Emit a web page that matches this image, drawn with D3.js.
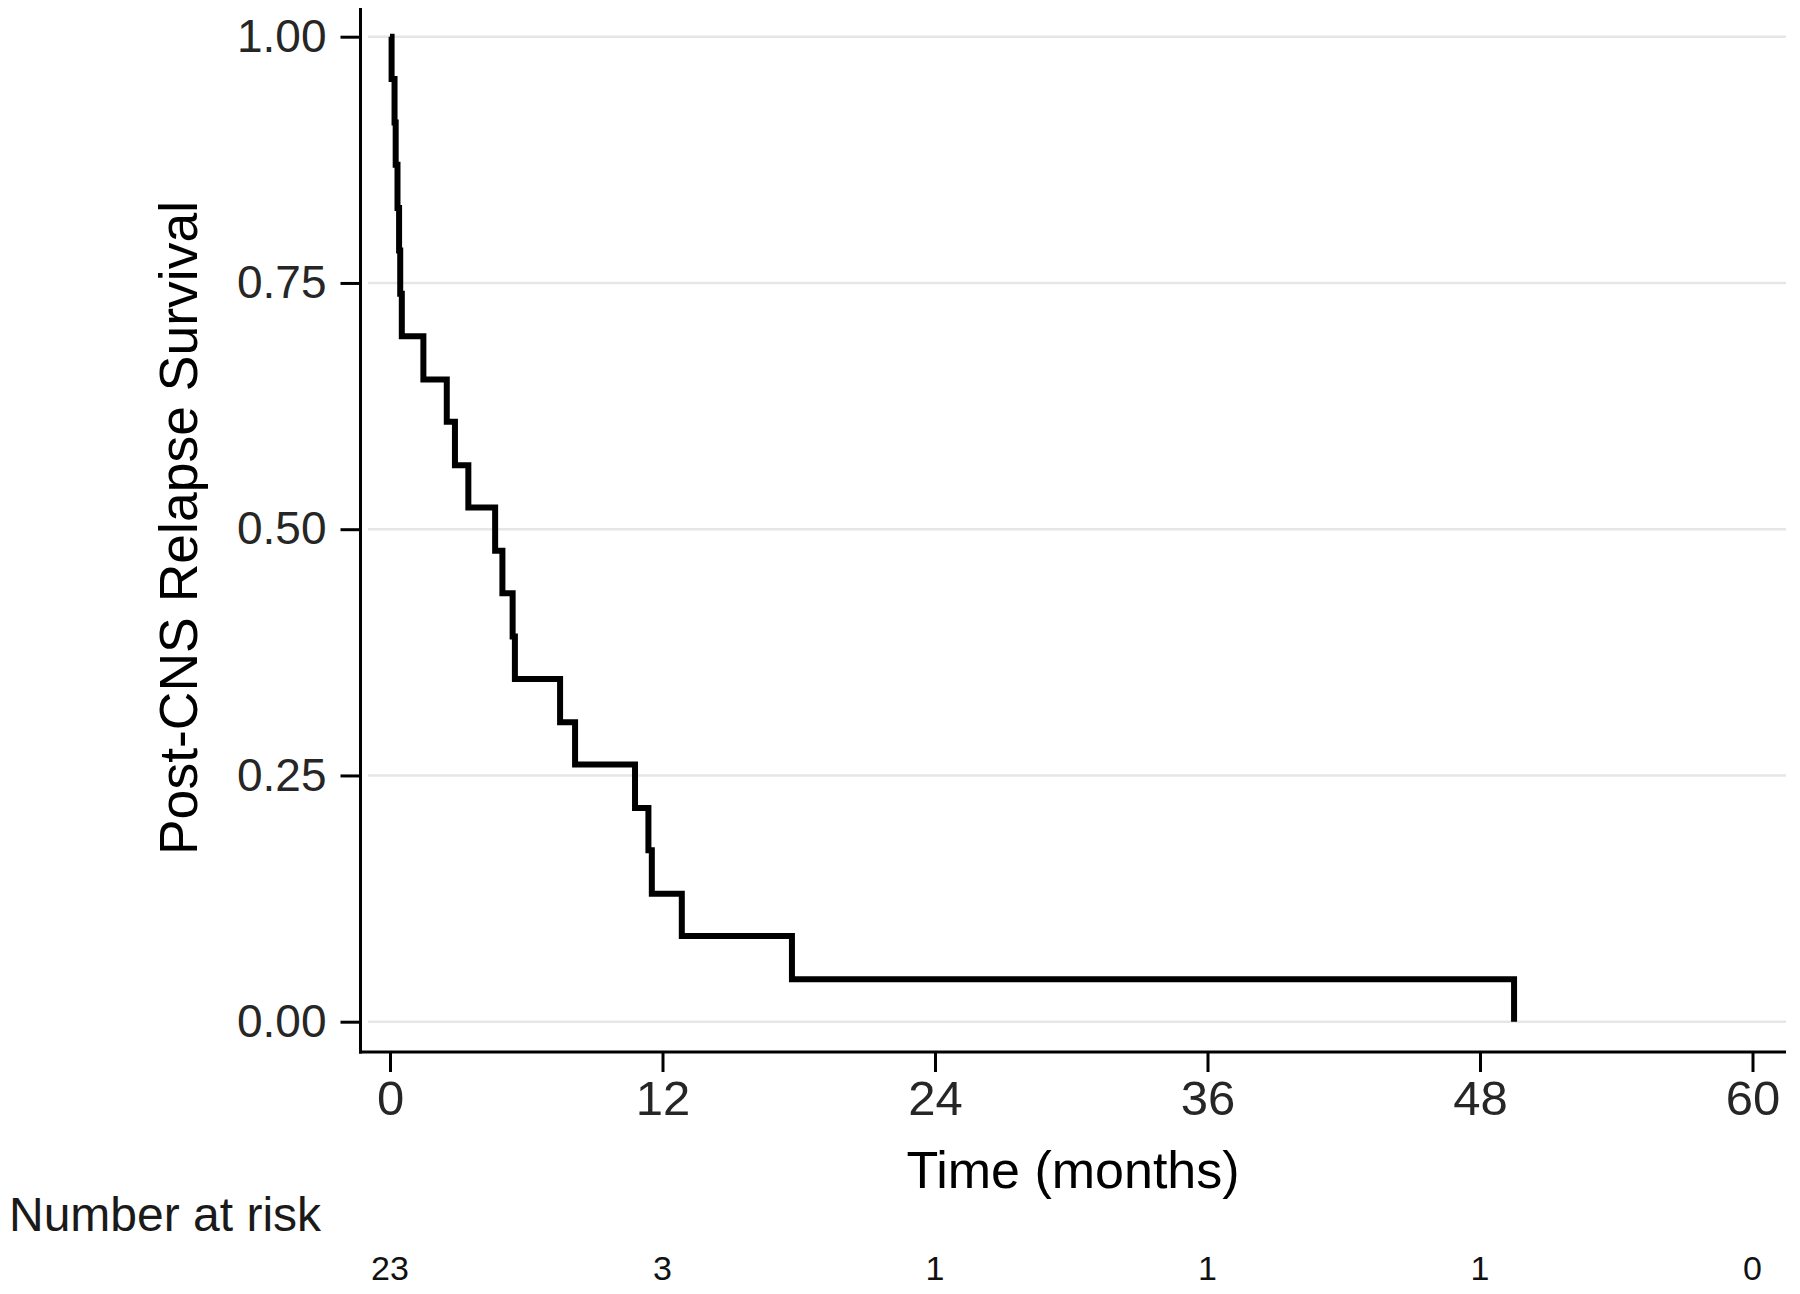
<!DOCTYPE html>
<html>
<head>
<meta charset="utf-8">
<script src="https://cdn.jsdelivr.net/npm/d3@7"></script>
<style>
  html, body { margin: 0; padding: 0; background: #fff; }
  svg { display: block; }
  text { font-family: "Liberation Sans", Arial, sans-serif; }
</style>
</head>
<body>
<svg id="chart" width="1800" height="1294"></svg>
<script>
// ---- data ----
const times    = [0, 0.07, 0.2, 0.25, 0.33, 0.4, 0.45, 0.52, 1.47, 2.5, 2.86, 3.45, 4.63, 4.95, 5.40, 5.50, 7.49, 8.15, 10.79, 11.38, 11.53, 12.85, 17.7, 49.5];
const survival = [1.0, 0.957, 0.913, 0.870, 0.826, 0.783, 0.739, 0.696, 0.652, 0.609, 0.565, 0.522, 0.478, 0.435, 0.391, 0.348, 0.304, 0.261, 0.217, 0.174, 0.130, 0.087, 0.043, 0.0];
const xTicks   = [0, 12, 24, 36, 48, 60];
const yTicks   = [0, 0.25, 0.5, 0.75, 1.0];
const riskTimes  = [0, 12, 24, 36, 48, 60];
const riskCounts = [23, 3, 1, 1, 1, 0];

// ---- layout ----
const svg = d3.select("#chart");
svg.append("rect").attr("width", 1800).attr("height", 1294).attr("fill", "#fff");

const x = d3.scaleLinear().domain([0, 60]).range([390, 1752.5]);
const y = d3.scaleLinear().domain([0, 1]).range([1021.7, 36.7]);

const axisX0 = 360.5, axisY0 = 1052, axisTop = 8, axisRight = 1786;

// gridlines
svg.append("g").selectAll("line").data(yTicks).join("line")
  .attr("x1", 368).attr("x2", axisRight)
  .attr("y1", d => y(d)).attr("y2", d => y(d))
  .attr("stroke", "#e6e6e6").attr("stroke-width", 2.5);

// y axis
const yAxis = d3.axisLeft(y).tickValues(yTicks).tickFormat(d3.format(".2f"))
  .tickSize(20).tickPadding(14);
const gy = svg.append("g").attr("transform", `translate(${axisX0},0)`).call(yAxis);
gy.select(".domain").remove();
gy.selectAll(".tick line").attr("stroke", "#000").attr("stroke-width", 3);
gy.selectAll(".tick text").attr("font-size", 46).attr("fill", "#262626")
  .attr("font-family", "'Liberation Sans', Arial, sans-serif");
svg.append("line").attr("x1", axisX0).attr("x2", axisX0)
  .attr("y1", axisTop).attr("y2", axisY0 + 1.5)
  .attr("stroke", "#000").attr("stroke-width", 3);

// x axis
const xAxis = d3.axisBottom(x).tickValues(xTicks).tickFormat(d3.format("d"))
  .tickSize(20).tickPadding(8);
const gx = svg.append("g").attr("transform", `translate(0,${axisY0})`).call(xAxis);
gx.select(".domain").remove();
gx.selectAll(".tick line").attr("stroke", "#000").attr("stroke-width", 3);
gx.selectAll(".tick text").attr("font-size", 49).attr("fill", "#262626")
  .attr("font-family", "'Liberation Sans', Arial, sans-serif");
svg.append("line").attr("x1", axisX0 - 1.5).attr("x2", axisRight)
  .attr("y1", axisY0).attr("y2", axisY0)
  .attr("stroke", "#000").attr("stroke-width", 3);

// survival curve
const line = d3.line()
  .x((d, i) => x(times[i]))
  .y((d, i) => y(survival[i]))
  .curve(d3.curveStepAfter);
svg.append("path")
  .attr("d", line(times))
  .attr("fill", "none")
  .attr("stroke", "#000")
  .attr("stroke-width", 6)
  .attr("stroke-linejoin", "miter");

// axis titles
svg.append("text")
  .attr("x", 1073).attr("y", 1188)
  .attr("text-anchor", "middle")
  .attr("font-size", 52).attr("fill", "#000")
  .text("Time (months)");

svg.append("text")
  .attr("transform", "translate(197,528) rotate(-90)")
  .attr("text-anchor", "middle")
  .attr("font-size", 53.5).attr("fill", "#000")
  .text("Post-CNS Relapse Survival");

// number at risk
svg.append("text")
  .attr("x", 9).attr("y", 1231)
  .attr("font-size", 48).attr("fill", "#1a1a1a")
  .text("Number at risk");

svg.append("g").selectAll("text").data(riskCounts).join("text")
  .attr("x", (d, i) => x(riskTimes[i]))
  .attr("y", 1280)
  .attr("text-anchor", "middle")
  .attr("font-size", 34).attr("fill", "#111")
  .text(d => d);
</script>
</body>
</html>
